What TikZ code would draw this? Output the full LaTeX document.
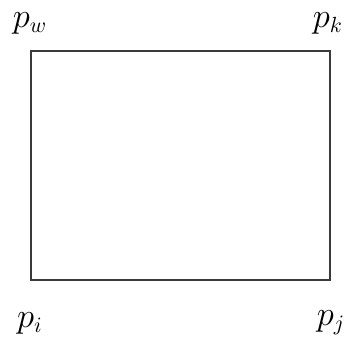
\documentclass[tikz,border=0pt]{standalone}
\usetikzlibrary{positioning}
\definecolor{bxink}{HTML}{3A3A3A}
\tikzset{
  bx frame/.style={draw=bxink, line width=1pt},
  bx label/.style={font=\fontsize{16}{18}\selectfont, text=black, inner sep=0pt}
}
\begin{document}
\begin{tikzpicture}[x=0.5pt, y=-0.5pt]
  \useasboundingbox (0,0) rectangle (347,339);
  \coordinate (tl) at (31,51);
  \coordinate (br) at (330,280);
  \draw[bx frame] (tl) rectangle (br);
  \node[bx label] (pw) at (30,23) {$p_w$};
  \node[bx label] (pk) at (328,23) {$p_k$};
  \node[bx label] (pi) at (30,323) {$p_i$};
  \node[bx label] (pj) at (331,323) {$p_j$};
\end{tikzpicture}
\end{document}
